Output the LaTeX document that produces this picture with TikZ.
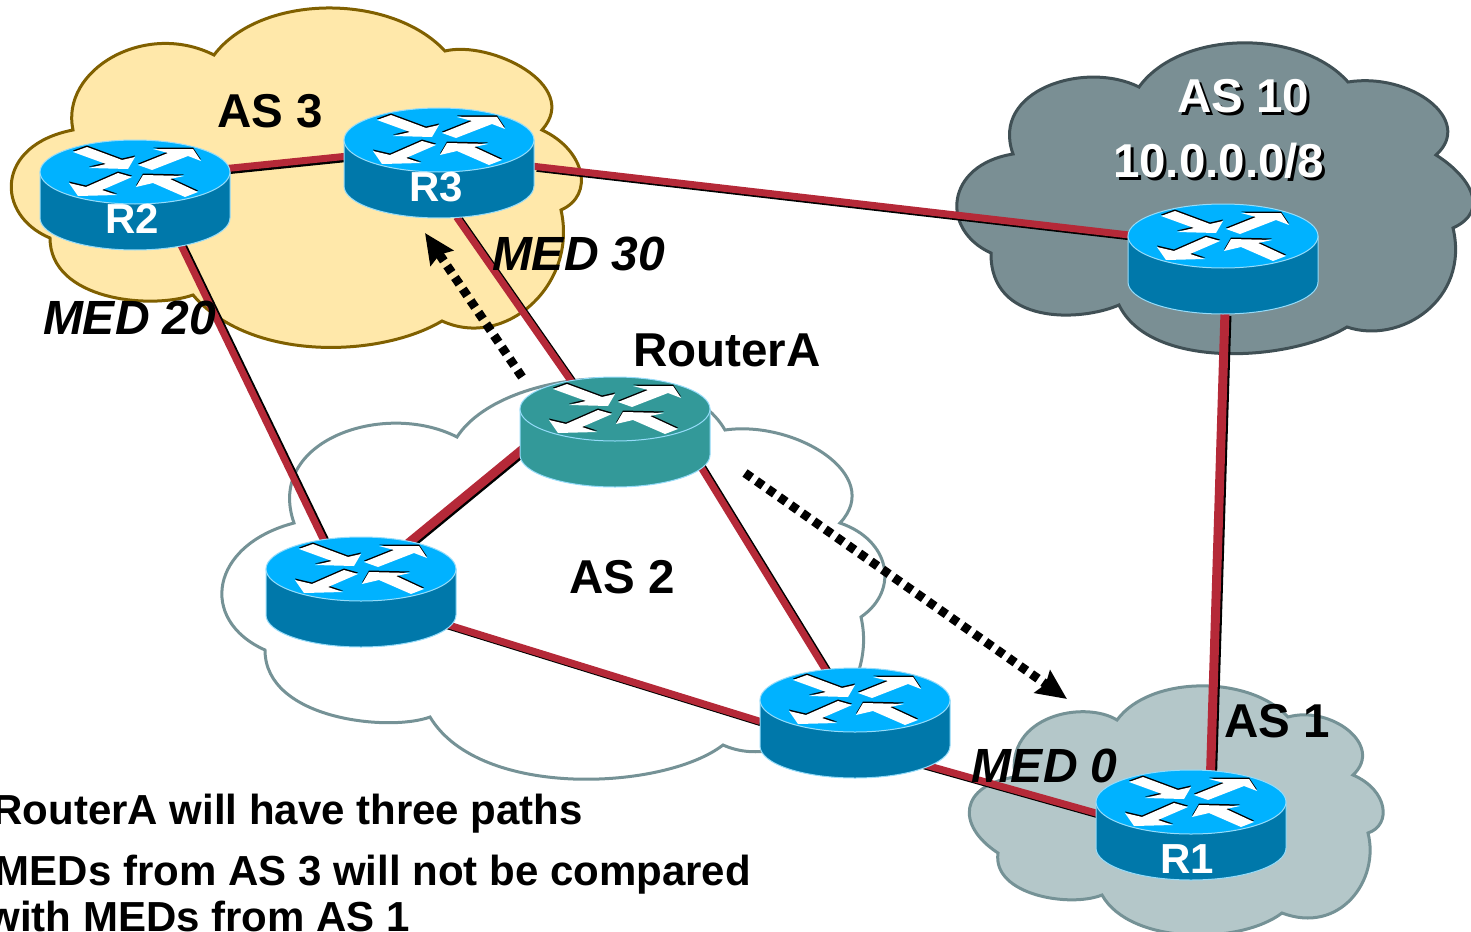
\documentclass[tikz,border=0pt]{standalone}
\usepackage{fontspec}
\setmainfont{Liberation Sans}
\usetikzlibrary{shapes.geometric, arrows.meta}
\definecolor{linkred}{RGB}{181, 41, 56}
\definecolor{routertop}{RGB}{0, 178, 255}
\definecolor{routerside}{RGB}{0, 120, 170}
\definecolor{routeredge}{RGB}{150, 220, 250}
\definecolor{routerteal}{RGB}{51, 153, 153}
\definecolor{yellowfill}{RGB}{255, 232, 170}
\definecolor{yellowedge}{RGB}{128, 96, 0}
\definecolor{slatefill}{RGB}{122, 143, 148}
\definecolor{slateedge}{RGB}{64, 80, 85}
\definecolor{mistfill}{RGB}{180, 199, 201}
\definecolor{mistedge}{RGB}{117, 146, 150}
\newcommand{\arrowglyphs}{
  (-62,-20) -- (-48,-25) -- (-13,-12) -- (0,-15) -- (-7,-3) -- (-46,-4) -- (-29,-8) -- cycle
  (3,-7) -- (33,-19) -- (18,-23) -- (58,-23) -- (66,-11) -- (53,-16) -- (17,-2) -- cycle
  (-3,5) -- (-17,1) -- (-49,15) -- (-66,11) -- (-57,24) -- (-18,23) -- (-33,18) -- cycle
  (1,15) -- (8,3) -- (49,4) -- (35,7) -- (63,20) -- (50,25) -- (18,11) -- cycle
}
\newcommand{\shadowtext}[1]{\rlap{\hspace{3pt}\raisebox{-3pt}{\textcolor{black}{#1}}}#1}
\tikzset{
  cloudbase/.style={line width=3pt, line join=miter},
  routerspot/.style={ellipse, minimum width=190pt, minimum height=110pt, inner sep=0pt, outer sep=0pt},
  link/.style={draw=linkred, line width=7pt, preaction={draw=black, line width=7pt, transform canvas={shift={(3pt,-2pt)}}}},
  linkwide/.style={link, line width=9pt},
  bgp/.style={draw=black, line width=9pt, dash pattern=on 8pt off 6pt, -{Stealth[length=30pt, width=27pt, inset=4pt]}},
  label/.style={font=\fontsize{47.5}{50}\selectfont\bfseries, inner sep=0pt, outer sep=0pt, anchor=base west},
  medlabel/.style={label, font=\fontsize{48}{50}\selectfont\bfseries\itshape},
  rname/.style={label, text=white, font=\fontsize{42}{44}\selectfont\bfseries},
  note/.style={label, anchor=base east, font=\fontsize{42}{46}\selectfont\bfseries},
  pics/router/.style n args={2}{code={
    \path[fill=#1, draw=routeredge, line width=1pt] (-95,-23) -- (-95,23) arc[start angle=180, end angle=360, x radius=95pt, y radius=32pt] -- (95,-23) -- cycle;
    \path[fill=#2, draw=routeredge, line width=1pt] (0,-23) ellipse[x radius=95pt, y radius=32pt];
    \begin{scope}[shift={(0,-23)}]
      \fill[black, shift={(0,-1.5)}] \arrowglyphs;
      \fill[white] \arrowglyphs;
    \end{scope}
  }},
}

\begin{document}
\begin{tikzpicture}[x=1pt, y=-1pt]
  \useasboundingbox (0,0) rectangle (1471,931);

  % The clouds
  \draw[cloudbase, fill=yellowfill, draw=yellowedge] (73,130)
    .. controls (60,70) and (145,20) .. (214,55)
    .. controls (260,-6) and (390,-8) .. (445,51)
    .. controls (490,40) and (582,85) .. (542,130)
    .. controls (585,150) and (595,195) .. (561,210)
    .. controls (578,285) and (505,350) .. (442,321)
    .. controls (380,358) and (250,362) .. (193,295)
    .. controls (150,310) and (50,300) .. (50,238)
    .. controls (-5,215) and (-5,145) .. (73,130) -- cycle;
  \draw[cloudbase, fill=slatefill, draw=slateedge] (1013,154)
    .. controls (990,90) and (1085,60) .. (1139,87)
    .. controls (1180,30) and (1300,28) .. (1348,82)
    .. controls (1410,72) and (1475,120) .. (1436,155)
    .. controls (1468,175) and (1492,210) .. (1453,228)
    .. controls (1470,300) and (1400,345) .. (1347,327)
    .. controls (1290,362) and (1150,370) .. (1119,305)
    .. controls (1080,322) and (990,325) .. (991,253)
    .. controls (940,230) and (945,165) .. (1013,154) -- cycle;
  \draw[cloudbase, fill=white, draw=mistedge] (294,523)
    .. controls (265,440) and (385,400) .. (457,437)
    .. controls (500,370) and (680,352) .. (725,430)
    .. controls (795,420) and (885,475) .. (840,523)
    .. controls (890,540) and (900,590) .. (861,617)
    .. controls (880,700) and (790,775) .. (723,745)
    .. controls (665,790) and (480,800) .. (430,717)
    .. controls (390,732) and (265,720) .. (265,650)
    .. controls (198,620) and (210,545) .. (294,523) -- cycle;
  \draw[cloudbase, fill=mistfill, draw=mistedge] (1015,777)
    .. controls (1005,715) and (1085,700) .. (1117,720)
    .. controls (1150,675) and (1250,675) .. (1288,717)
    .. controls (1330,705) and (1385,745) .. (1353,775)
    .. controls (1388,790) and (1392,825) .. (1368,833)
    .. controls (1380,880) and (1340,935) .. (1282,913)
    .. controls (1240,945) and (1130,945) .. (1102,895)
    .. controls (1070,908) and (992,895) .. (998,853)
    .. controls (955,825) and (960,785) .. (1015,777) -- cycle;

  % Where the routers sit
  \node[routerspot] (r2) at (135,195) {};
  \node[routerspot] (r3) at (439,163) {};
  \node[routerspot] (r10) at (1223,259) {};
  \node[routerspot] (routera) at (615,432) {};
  \node[routerspot] (rleft) at (361,592) {};
  \node[routerspot] (rbottom) at (855,723) {};
  \node[routerspot] (r1) at (1191,825) {};

  % Links
  \draw[link] (r2.17.4) -- (r3.176.4);
  \draw[link] (r3.-2.4) -- (r10.165);
  \draw[link] (r2.-47) -- (rleft.126);
  \draw[link] (r3.-72) -- (routera.131);
  \draw[linkwide] (routera.190) -- (rleft.46);
  \draw[link] (routera.-19) -- (rbottom.119.5);
  \draw[link] (rleft.-21.4) -- (rbottom.179);
  \draw[link] (rbottom.-32.5) -- (r1.173.9);
  \draw[linkwide] (r10.-88) -- (r1.70);

  % Routers
  \pic at (r2) {router={routerside}{routertop}};
  \pic at (r3) {router={routerside}{routertop}};
  \pic at (r10) {router={routerside}{routertop}};
  \pic at (routera) {router={routerteal}{routerteal}};
  \pic at (rleft) {router={routerside}{routertop}};
  \pic at (rbottom) {router={routerside}{routertop}};
  \pic at (r1) {router={routerside}{routertop}};

  % Paths seen by RouterA
  \coordinate (fromleft) at (522,377);
  \coordinate (tor3) at (425,233);
  \coordinate (fromright) at (745,473);
  \coordinate (tor1) at (1067,699);
  \draw[bgp] (fromleft) -- (tor3);
  \draw[bgp] (fromright) -- (tor1);

  % Labels
  \node[label] (as3) at (217,128) {AS 3};
  \node[label, text=white] (as10) at (1177,113) {\shadowtext{AS 10}};
  \node[label, text=white] (prefix) at (1113,177) {\shadowtext{10.0.0.0/8}};
  \node[label] (nameA) at (633,366) {RouterA};
  \node[label] (as2) at (569,593) {AS 2};
  \node[label] (as1) at (1224,737) {AS 1};
  \node[medlabel] (med30) at (492,270) {MED 30};
  \node[medlabel] (med20) at (43,334) {MED 20};
  \node[medlabel] (med0) at (971,782) {MED 0};
  \node[rname] (name2) at (105,233) {R2};
  \node[rname] (name3) at (409,201) {R3};
  \node[rname] (name1) at (1160,873) {R1};

  % Notes
  \node[note] (note1) at (583,824) {RouterA will have three paths};
  \node[note] (note2) at (751,885) {MEDs from AS 3 will not be compared};
  \node[note] (note3) at (410,931) {with MEDs from AS 1};
\end{tikzpicture}
\end{document}
